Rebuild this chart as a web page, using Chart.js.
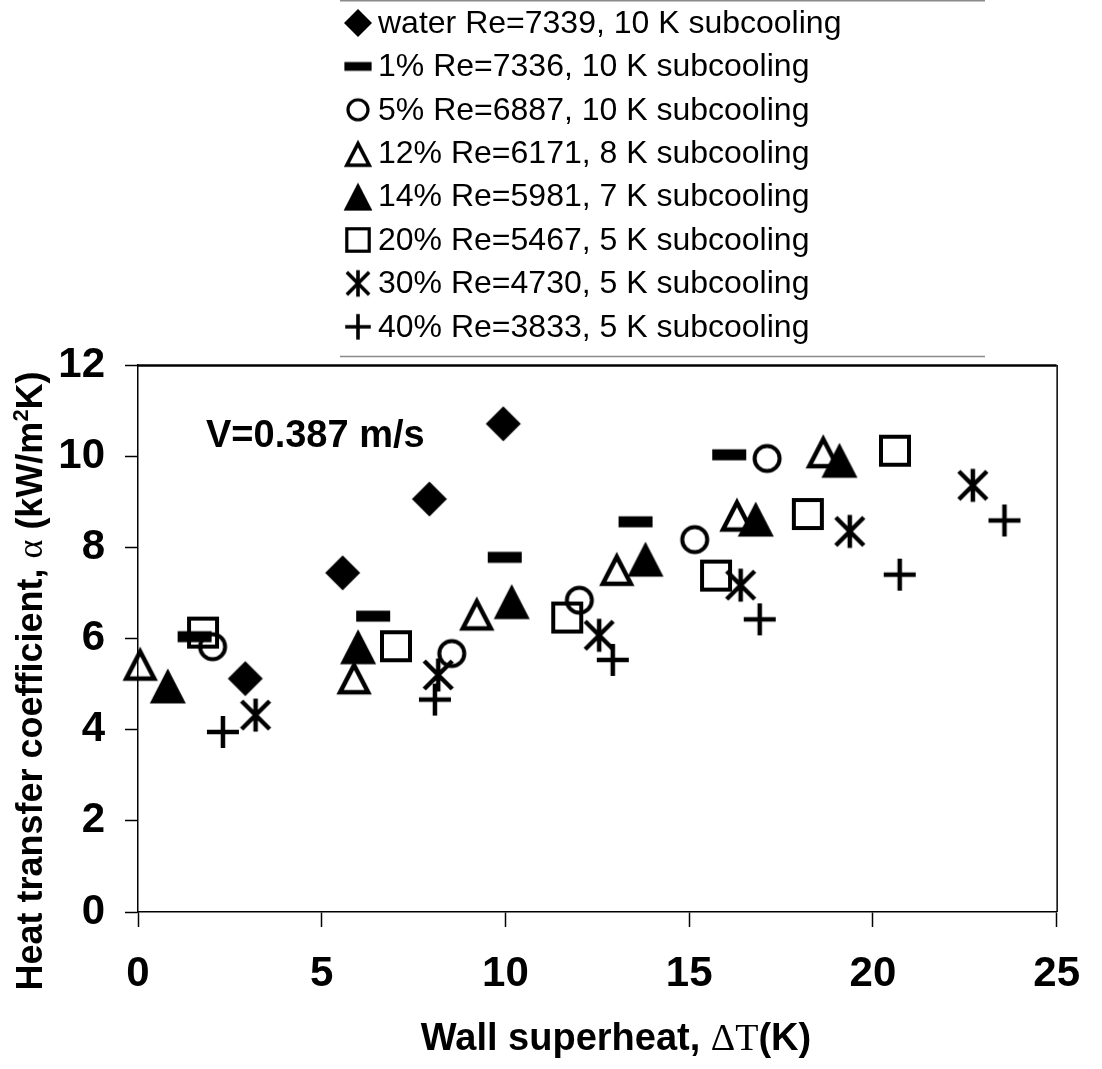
<!DOCTYPE html>
<html>
<head>
<meta charset="utf-8">
<script src="https://cdn.jsdelivr.net/npm/chart.js@4.4.1/dist/chart.umd.min.js"></script>
<style>
  html, body { margin: 0; padding: 0; background: #fff; }
  #wrap { width: 1102px; height: 1069px; position: relative; }
</style>
</head>
<body>
<div id="wrap"><canvas id="c" width="1102" height="1069"></canvas></div>
<script>
// Series labels (legend text)
const seriesLabels = [
  'water Re=7339, 10 K subcooling',
  '1% Re=7336, 10 K subcooling',
  '5% Re=6887, 10 K subcooling',
  '12% Re=6171, 8 K subcooling',
  '14% Re=5981, 7 K subcooling',
  '20% Re=5467, 5 K subcooling',
  '30% Re=4730, 5 K subcooling',
  '40% Re=3833, 5 K subcooling'
];
const markerKinds = ['diamond', 'dash', 'circle', 'triOpen', 'triFill', 'square', 'star', 'plus'];

// Wall superheat (K) and heat transfer coefficient (kW/m2K) per series
const waterDT   = [2.92, 5.57, 7.93, 9.94];
const waterA    = [5.12, 7.44, 9.06, 10.71];
const pc1DT     = [1.54, 6.40, 9.98, 13.54, 16.09];
const pc1A      = [6.04, 6.49, 7.78, 8.56, 10.03];
const pc5DT     = [2.03, 8.54, 12.01, 15.15, 17.12];
const pc5A      = [5.82, 5.67, 6.84, 8.17, 9.95];
const pc12DT    = [0.06, 5.88, 9.22, 13.03, 16.30, 18.65];
const pc12A     = [5.45, 5.15, 6.55, 7.53, 8.72, 10.11];
const pc14DT    = [0.81, 5.99, 10.17, 13.81, 16.81, 19.09];
const pc14A     = [4.96, 5.82, 6.81, 7.74, 8.62, 9.91];
const pc20DT    = [1.77, 7.02, 11.68, 15.73, 18.23, 20.60];
const pc20A     = [6.13, 5.83, 6.46, 7.38, 8.73, 10.12];
const pc30DT    = [3.20, 8.17, 12.55, 16.40, 19.37, 22.72];
const pc30A     = [4.32, 5.20, 6.07, 7.17, 8.35, 9.36];
const pc40DT    = [2.31, 8.08, 12.92, 16.92, 20.73, 23.58];
const pc40A     = [3.95, 4.66, 5.53, 6.42, 7.40, 8.59];

const xTicks = [0, 5, 10, 15, 20, 25];
const yTicks = [0, 2, 4, 6, 8, 10, 12];

const seriesDT = [waterDT, pc1DT, pc5DT, pc12DT, pc14DT, pc20DT, pc30DT, pc40DT];
const seriesA  = [waterA, pc1A, pc5A, pc12A, pc14A, pc20A, pc30A, pc40A];

const SANS = "'Liberation Sans', Arial, Helvetica, sans-serif";
const SERIF = "'Liberation Serif', 'Times New Roman', serif";

// Marker bitmaps, black on transparent, centred on their bounding box
function markerCanvas(kind, k) {
  const s = Math.ceil(40 * k) + 4;
  const c = document.createElement('canvas');
  c.width = c.height = s;
  const g = c.getContext('2d');
  const m = s / 2;
  g.fillStyle = '#000';
  g.strokeStyle = '#000';
  g.lineJoin = 'miter';
  g.lineCap = 'butt';
  g.beginPath();
  switch (kind) {
    case 'diamond':
      g.moveTo(m, m - 17.5 * k); g.lineTo(m + 17.5 * k, m);
      g.lineTo(m, m + 17.5 * k); g.lineTo(m - 17.5 * k, m);
      g.closePath(); g.fill();
      break;
    case 'dash':
      g.fillRect(m - 17 * k, m - 5.5 * k, 34 * k, 11 * k);
      break;
    case 'circle':
      g.lineWidth = 4 * k;
      g.arc(m, m, 12.5 * k, 0, Math.PI * 2);
      g.stroke();
      break;
    case 'triOpen':
      g.lineWidth = 4.5 * k;
      g.moveTo(m, m - 12 * k); g.lineTo(m + 14 * k, m + 15 * k);
      g.lineTo(m - 14 * k, m + 15 * k); g.closePath();
      g.stroke();
      break;
    case 'triFill':
      g.moveTo(m, m - 17.5 * k); g.lineTo(m + 18 * k, m + 17.5 * k);
      g.lineTo(m - 18 * k, m + 17.5 * k); g.closePath();
      g.fill();
      break;
    case 'square':
      g.lineWidth = 4 * k;
      g.strokeRect(m - 14 * k, m - 14 * k, 28 * k, 28 * k);
      break;
    case 'star':
      g.lineWidth = 4.5 * k;
      g.moveTo(m - 14 * k, m - 14 * k); g.lineTo(m + 14 * k, m + 14 * k);
      g.moveTo(m + 14 * k, m - 14 * k); g.lineTo(m - 14 * k, m + 14 * k);
      g.moveTo(m, m - 16.5 * k); g.lineTo(m, m + 16.5 * k);
      g.stroke();
      break;
    case 'plus':
      g.lineWidth = 4.5 * k;
      g.moveTo(m - 16 * k, m); g.lineTo(m + 16 * k, m);
      g.moveTo(m, m - 16 * k); g.lineTo(m, m + 16 * k);
      g.stroke();
      break;
  }
  return c;
}

const plotMarkers = markerKinds.map(k => markerCanvas(k, 1));
const legendMarkers = markerKinds.map(k => markerCanvas(k, 0.8));

const datasets = seriesLabels.map((label, i) => ({
  label,
  data: seriesDT[i].map((x, j) => ({ x, y: seriesA[i][j] })),
  pointStyle: plotMarkers[i],
  pointRadius: 17,
  pointHoverRadius: 17,
  clip: false,
  order: -i
}));

// Draws runs of text with mixed fonts, centred on (0,0) of the current transform
function drawRuns(ctx, runs) {
  let total = 0;
  runs.forEach(r => { ctx.font = r.font; r.w = ctx.measureText(r.t).width; total += r.w; });
  let x = -total / 2;
  ctx.textAlign = 'left';
  ctx.textBaseline = 'alphabetic';
  runs.forEach(r => { ctx.font = r.font; ctx.fillText(r.t, x, r.dy || 0); x += r.w; });
}

const decorPlugin = {
  id: 'decor',
  afterDraw(chart) {
    const ctx = chart.ctx;
    const a = chart.chartArea;
    ctx.save();
    ctx.fillStyle = '#000';
    ctx.strokeStyle = '#000';

    // Frame: top and right edges of the plot box
    ctx.lineWidth = 2.5;
    ctx.beginPath();
    ctx.moveTo(a.left, a.top + 0.5);
    ctx.lineTo(a.right, a.top + 0.5);
    ctx.stroke();
    ctx.lineWidth = 1.5;
    ctx.beginPath();
    ctx.moveTo(a.right + 0.5, a.top);
    ctx.lineTo(a.right + 0.5, a.bottom);
    ctx.stroke();

    // Legend
    const lx = 358, ly0 = 23, lstep = 43.4;
    ctx.font = '32px ' + SANS;
    ctx.textAlign = 'left';
    ctx.textBaseline = 'middle';
    seriesLabels.forEach((t, i) => {
      const y = ly0 + i * lstep;
      const img = legendMarkers[i];
      ctx.drawImage(img, lx - img.width / 2, y - img.height / 2);
      ctx.fillText(t, 378, y + 1);
    });
    ctx.strokeStyle = '#8a8a8a';
    ctx.lineWidth = 1.5;
    ctx.beginPath();
    ctx.moveTo(340, 356.5); ctx.lineTo(985, 356.5);
    ctx.moveTo(340, 0.75); ctx.lineTo(985, 0.75);
    ctx.stroke();

    // Velocity note inside the plot
    ctx.font = 'bold 38px ' + SANS;
    ctx.textBaseline = 'alphabetic';
    ctx.fillText('V=0.387 m/s', 206, 447);

    // Y axis title
    ctx.save();
    ctx.translate(42, 681);
    ctx.rotate(-Math.PI / 2);
    drawRuns(ctx, [
      { t: 'Heat transfer coefficient, ', font: 'bold 36px ' + SANS },
      { t: 'α', font: '36px ' + SERIF },
      { t: ' (kW/m', font: 'bold 36px ' + SANS },
      { t: '2', font: 'bold 22px ' + SANS, dy: -14 },
      { t: 'K)', font: 'bold 36px ' + SANS }
    ]);
    ctx.restore();

    // X axis title
    ctx.save();
    ctx.translate(616, 1050);
    drawRuns(ctx, [
      { t: 'Wall superheat, ', font: 'bold 38px ' + SANS },
      { t: 'ΔT', font: '38px ' + SERIF },
      { t: '(K)', font: 'bold 38px ' + SANS }
    ]);
    ctx.restore();

    ctx.restore();
  }
};

const tickFont = { family: SANS, size: 42, weight: 'bold' };

new Chart(document.getElementById('c'), {
  type: 'scatter',
  data: { datasets },
  options: {
    responsive: false,
    animation: false,
    devicePixelRatio: 1,
    layout: { padding: { left: 0, top: 365, right: 36, bottom: 0 } },
    plugins: { legend: { display: false }, tooltip: { enabled: false } },
    scales: {
      x: {
        type: 'linear', min: 0, max: 25,
        afterBuildTicks(s) { s.ticks = xTicks.map(v => ({ value: v })); },
        ticks: { font: tickFont, color: '#000', padding: 22, maxRotation: 0 },
        grid: { drawOnChartArea: false, tickLength: 15, tickColor: '#000', tickWidth: 1.5 },
        border: { color: '#000', width: 1.5 },
        afterFit(s) { s.height = 157; }
      },
      y: {
        type: 'linear', min: 0, max: 12,
        afterBuildTicks(s) { s.ticks = yTicks.map(v => ({ value: v })); },
        ticks: { font: tickFont, color: '#000', padding: 20 },
        grid: { drawOnChartArea: false, tickLength: 13, tickColor: '#000', tickWidth: 1.5 },
        border: { color: '#000', width: 1.5 },
        afterFit(s) { s.width = 138; }
      }
    }
  },
  plugins: [decorPlugin]
});
</script>
</body>
</html>
